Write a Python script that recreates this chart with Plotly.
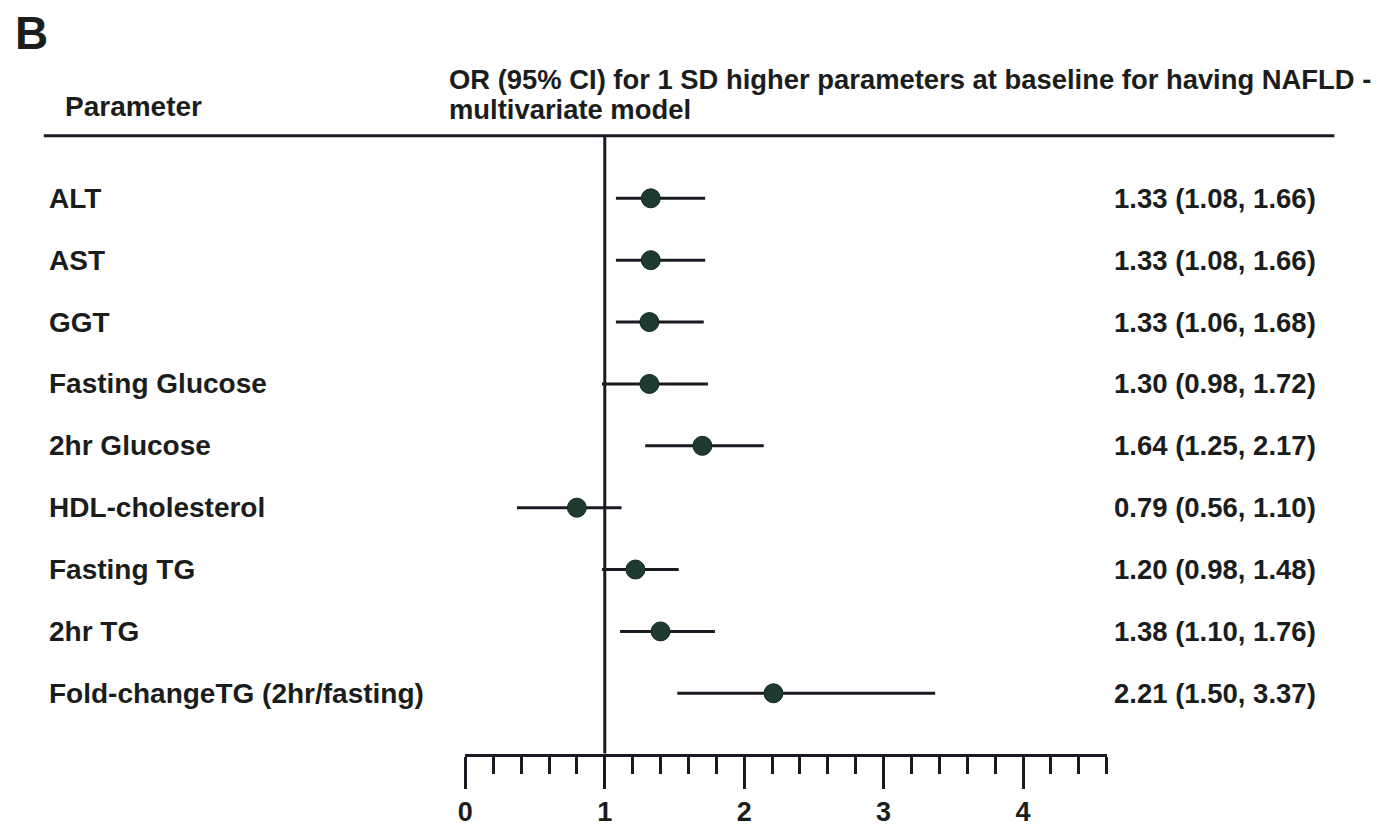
import plotly.graph_objects as go

# ---- data ----
parameters = ["ALT", "AST", "GGT", "Fasting Glucose", "2hr Glucose",
              "HDL-cholesterol", "Fasting TG", "2hr TG", "Fold-changeTG (2hr/fasting)"]
# positions of the marks as drawn in the picture
or_point = [1.33, 1.33, 1.32, 1.32, 1.70, 0.80, 1.22, 1.40, 2.21]
ci_low = [1.08, 1.08, 1.08, 0.98, 1.29, 0.37, 0.98, 1.11, 1.52]
ci_high = [1.72, 1.72, 1.71, 1.74, 2.14, 1.12, 1.53, 1.79, 3.37]
# printed estimates
or_text = ["1.33 (1.08, 1.66)", "1.33 (1.08, 1.66)", "1.33 (1.06, 1.68)",
           "1.30 (0.98, 1.72)", "1.64 (1.25, 2.17)", "0.79 (0.56, 1.10)",
           "1.20 (0.98, 1.48)", "1.38 (1.10, 1.76)", "2.21 (1.50, 3.37)"]
x_ticks = [0, 1, 2, 3, 4]
panel_letter = "B"
col_left_title = "Parameter"
col_right_title_1 = "OR (95% CI) for 1 SD higher parameters at baseline for having NAFLD -"
col_right_title_2 = "multivariate model"

W, H = 1396, 827
FONT = "Liberation Sans, Arial, sans-serif"
TXT = "#1b1d1c"
LINE = "#1a1a22"
MARK = "#1f3b2f"

rows = list(range(len(parameters)))

def px_x(p):
    return p / W

def px_y(p):
    return 1 - p / H

fig = go.Figure()
fig.add_trace(go.Scatter(
    x=or_point, y=rows, mode="markers",
    marker=dict(symbol="circle", size=19, color=MARK, line=dict(width=1, color="#13281e")),
    error_x=dict(type="data", symmetric=False,
                 array=[h - o for h, o in zip(ci_high, or_point)],
                 arrayminus=[o - l for o, l in zip(or_point, ci_low)],
                 width=0, thickness=3, color=LINE),
    showlegend=False, hoverinfo="skip",
))

# axes
x_left_px, x_right_px = 460, 1105
top_px, bottom_px = 137, 760
fig.update_layout(
    width=W, height=H,
    margin=dict(l=0, r=0, t=0, b=0),
    paper_bgcolor="white", plot_bgcolor="white",
    xaxis=dict(
        domain=[px_x(x_left_px), px_x(x_right_px)],
        range=[0, 4.6001],
        showgrid=False, zeroline=False,
        showline=True, linewidth=3, linecolor=LINE,
        ticks="outside", ticklen=32, tickwidth=3, tickcolor=LINE,
        tickmode="array", tickvals=x_ticks, ticktext=[str(t) for t in x_ticks],
        tickfont=dict(family=FONT, size=27, color=TXT, weight="bold"),
        ticklabelstandoff=0,
        minor=dict(dtick=0.2, tick0=0, ticks="outside", ticklen=17, tickwidth=3,
                   tickcolor=LINE, showgrid=False),
        fixedrange=True,
    ),
    yaxis=dict(
        domain=[px_y(bottom_px), px_y(top_px)],
        range=[(bottom_px - 200) / 62.4, (top_px - 200) / 62.4],
        visible=False, fixedrange=True,
    ),
)

# vertical reference line at OR = 1
fig.add_shape(type="line", xref="x", yref="y domain", x0=1, x1=1, y0=0, y1=1,
              line=dict(color=LINE, width=3), layer="below")
# header rule
fig.add_shape(type="line", xref="paper", yref="paper",
              x0=px_x(36), x1=px_x(1334), y0=px_y(top_px), y1=px_y(top_px),
              line=dict(color=LINE, width=3))

# row labels and estimates
for i, (name, txt) in enumerate(zip(parameters, or_text)):
    fig.add_annotation(x=px_x(39), y=i, xref="paper", yref="y", text=name,
                       showarrow=False, xanchor="left", yanchor="middle",
                       font=dict(family=FONT, size=28, color=TXT, weight="bold"))
    fig.add_annotation(x=px_x(1318), y=i, xref="paper", yref="y", text=txt,
                       showarrow=False, xanchor="right", yanchor="middle",
                       font=dict(family=FONT, size=27.5, color=TXT, weight="bold"))

# headers
fig.add_annotation(x=px_x(5), y=px_y(33), xref="paper", yref="paper", text=panel_letter,
                   showarrow=False, xanchor="left", yanchor="middle",
                   font=dict(family=FONT, size=46, color=TXT, weight="bold"))
fig.add_annotation(x=px_x(55), y=px_y(107), xref="paper", yref="paper", text=col_left_title,
                   showarrow=False, xanchor="left", yanchor="middle",
                   font=dict(family=FONT, size=28, color=TXT, weight="bold"))
fig.add_annotation(x=px_x(442), y=px_y(80), xref="paper", yref="paper", text=col_right_title_1,
                   showarrow=False, xanchor="left", yanchor="middle",
                   font=dict(family=FONT, size=27.4, color=TXT, weight="bold"))
fig.add_annotation(x=px_x(442), y=px_y(110), xref="paper", yref="paper", text=col_right_title_2,
                   showarrow=False, xanchor="left", yanchor="middle",
                   font=dict(family=FONT, size=27.4, color=TXT, weight="bold"))

fig.write_html("out.html", config={"displayModeBar": False, "staticPlot": True},
               post_script="document.body.style.margin='0';document.body.style.padding='0';document.body.style.overflow='hidden';")
